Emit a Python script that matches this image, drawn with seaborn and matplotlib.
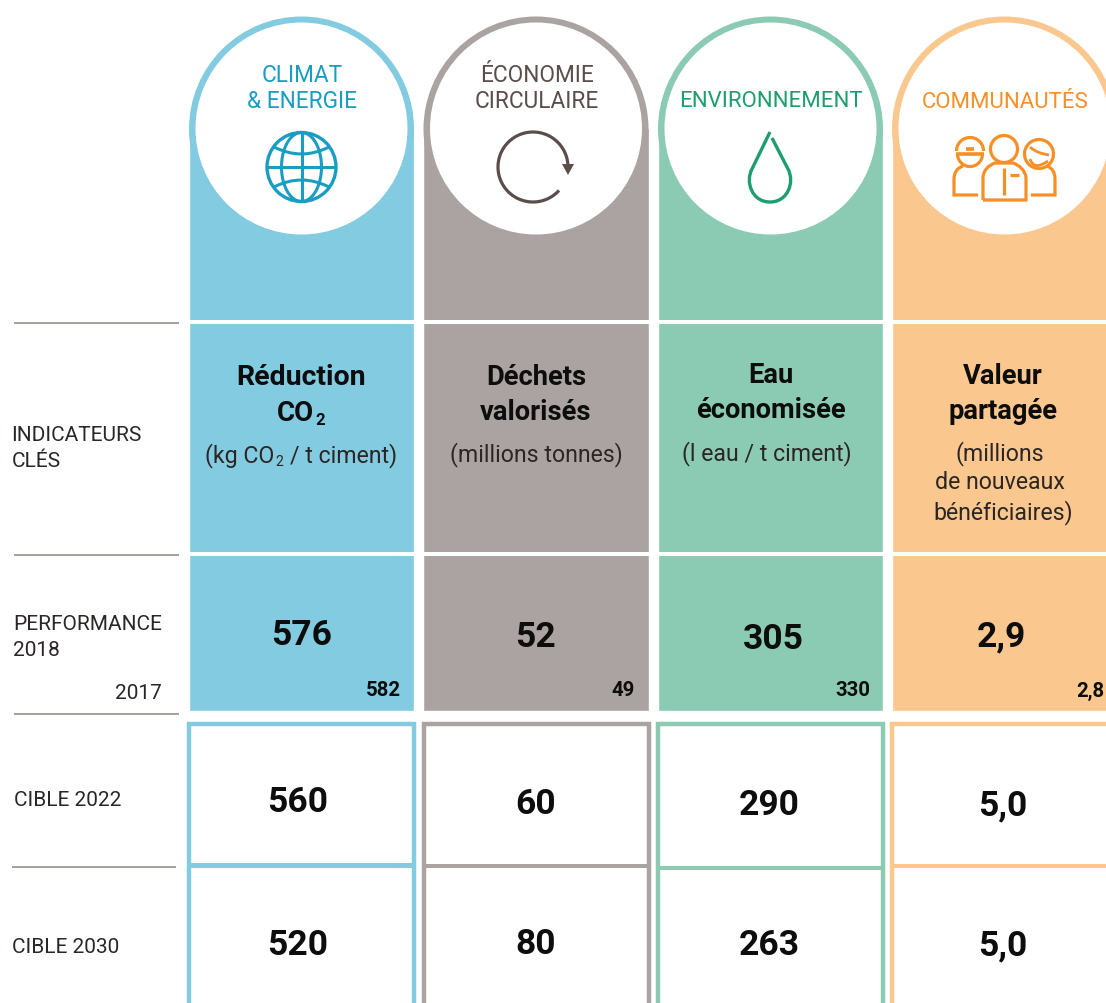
import numpy as np
import seaborn as sns
import matplotlib.pyplot as plt
from matplotlib.patches import Circle, PathPatch, Rectangle, Polygon
from matplotlib.path import Path

categories = ["Climat", "Economie", "Environnement", "Communautes"]
header_lines = [["CLIMAT", "& ENERGIE"], ["ÉCONOMIE", "CIRCULAIRE"], ["ENVIRONNEMENT"], ["COMMUNAUTÉS"]]
perf_2018 = ["576", "52", "305", "2,9"]
perf_2017 = ["582", "49", "330", "2,8"]
cible_2022 = ["560", "60", "290", "5,0"]
cible_2030 = ["520", "80", "263", "5,0"]
fill_colors = ["#82CBE0", "#ABA3A1", "#8BCBB3", "#FAC78F"]
text_colors = ["#1A9DC3", "#5A4D4A", "#1D9E6E", "#F58F26"]

# layout in pixels of the picture
COL_X = [301.5, 536, 770.5, 1004.5]
BOX_X = [187, 422, 656, 890]
BOX_W = 229
MID_Y = [866.5, 867, 869, 867]
DARK = "#0d0d0d"
ICON_Z = 5

sns.set_theme(style="white")
plt.rcParams["font.family"] = ["Roboto", "DejaVu Sans"]

fig = plt.figure(figsize=(11.06, 10.04), dpi=100)
ax = fig.add_axes([0, 0, 1, 1])

# coloured columns
sns.barplot(x=COL_X, y=[583] * 4, bottom=129, hue=categories, palette=fill_colors,
            native_scale=True, width=0.963, saturation=1, legend=False, dodge=False, ax=ax)

ax.set_xlim(0, 1106)
ax.set_ylim(1004, 0)
ax.axis("off")


def label(x, y, s, size=16.3, weight="normal", color="#2b2625", ha="center"):
    ax.text(x, y, s, fontsize=size, fontweight=weight, color=color, ha=ha, va="center_baseline", zorder=6)


def line(xs, ys, color, lw=2.2):
    ax.plot(xs, ys, color=color, lw=lw, solid_capstyle="butt", solid_joinstyle="miter", zorder=ICON_Z)


def curve(points, codes, color, lw=2.2):
    ax.add_patch(PathPatch(Path(points, codes), fc="none", ec=color, lw=lw, zorder=ICON_Z))


def arc(cx, cy, r, a1, a2, color, lw=2.2):
    t = np.radians(np.linspace(a1, a2, 80))
    line(cx + r * np.cos(t), cy + r * np.sin(t), color, lw)


for i, x in enumerate(COL_X):
    c = fill_colors[i]
    tc = text_colors[i]
    ax.add_patch(Circle((x, 130), 112.5, fc=c, ec="none", zorder=1))
    ax.add_patch(Circle((x, 129.5), 106, fc="white", ec="none", zorder=1.1))
    for y0, y1 in [(321, 325), (553, 557)]:
        ax.add_patch(Rectangle((x - 113, y0), 226, y1 - y0, fc="white", ec="none", zorder=1.2))
    # target boxes
    ax.add_patch(Rectangle((BOX_X[i] + 2.2, 725), BOX_W - 4.4, 300, fc="white", ec=c, lw=3.2, zorder=1.3))
    ax.add_patch(Rectangle((BOX_X[i] + 2, MID_Y[i] - 2.2), BOX_W - 4, 4.4, fc=c, ec="none", zorder=1.4))

    if len(header_lines[i]) == 2:
        label(x + 0.5, 72.5, header_lines[i][0], color=tc)
        label(x + 0.5, 99.5, header_lines[i][1], color=tc)
    else:
        label(x + (i == 3), 99 + (i == 3), header_lines[i][0], 16, color=tc)

# left rules
for x0, x1, y in [(14, 179, 323.5), (14, 179, 555.5), (14, 179, 714.5), (12, 176, 867.5)]:
    line([x0, x1], [y, y], "#8E8482", 1.1)

label(11.5, 433.5, "INDICATEURS", ha="left", size=15)
label(11.5, 459.5, "CLÉS", ha="left", size=15)
label(13.5, 622.5, "PERFORMANCE", ha="left", size=15)
label(13.5, 648.5, "2018", ha="left", size=15)
label(162, 691.5, "2017", ha="right", size=15)
label(13.5, 798.5, "CIBLE 2022", ha="left", size=15)
label(11.5, 945.5, "CIBLE 2030", ha="left", size=15)

# indicator titles
label(301, 375, "Réduction", 20.5, "bold", DARK)
label(295, 410.5, "CO", 20, "bold", DARK)
label(320, 419, "2", 12, "bold", DARK)
label(536, 375, "Déchets", 19.7, "bold", DARK)
label(536, 410, "valorisés", 19.7, "bold", DARK)
label(771, 373, "Eau", 19.7, "bold", DARK)
label(771, 408, "économisée", 19.7, "bold", DARK)
label(1003, 374, "Valeur", 19.7, "bold", DARK)
label(1003, 409, "partagée", 19.7, "bold", DARK)

label(205, 452.5, "(kg CO", 16.7, ha="left")
label(279, 461, "2", 10)
label(290, 452.5, "/ t ciment)", 16.7, ha="left")
label(536, 451.5, "(millions tonnes)", 16.7)
label(767, 450.5, "(l eau / t ciment)", 16.7)
label(1000, 450.5, "(millions", 16.7)
label(1000, 480.5, "de nouveaux", 16.7)
label(1003, 509.5, "bénéficiaires)", 16.7)

# values
for x, y, s in zip([301.5, 535.5, 773.5, 1001], [632, 634, 636, 633], perf_2018):
    label(x, y, s, 25.5, "bold", DARK)
for x, y, s in zip([400.5, 634.5, 870.5, 1104.5], [688.5, 688.5, 688.5, 689.5], perf_2017):
    label(x, y, s, 14.7, "bold", DARK, ha="right")
for x, y, s in zip([298, 536, 769.5, 1003], [799, 801, 802, 802], cible_2022):
    label(x, y, s, 25.5, "bold", DARK)
for x, y, s in zip([298, 536, 769.5, 1003], [942, 941, 942, 942], cible_2030):
    label(x, y, s, 25.5, "bold", DARK)

# globe icon
gc = "#1A9DC3"
ax.add_patch(Circle((301.5, 168), 34.5, fc="none", ec=gc, lw=2.4, zorder=ICON_Z))
t = np.linspace(0, 2 * np.pi, 120)
line(301.5 + 20 * np.cos(t), 168 + 34.5 * np.sin(t), gc)
line([301.5, 301.5], [133.5, 202.5], gc)
line([267, 336], [168, 168], gc)
curve([(274, 148), (301.5, 162), (329, 148)], [Path.MOVETO, Path.CURVE3, Path.CURVE3], gc)
curve([(274, 188), (301.5, 174), (329, 188)], [Path.MOVETO, Path.CURVE3, Path.CURVE3], gc)

# circular arrow icon
ac = text_colors[1]
arc(533, 168, 35, 42, 358, ac, 2.3)
ax.add_patch(Polygon([(562, 165), (574, 165), (568, 176)], fc=ac, ec="none", zorder=ICON_Z))

# drop icon
dc = text_colors[2]
curve([(772, 139), (788, 170), (795, 183), (788, 203), (770, 203),
       (752, 203), (745, 183), (752, 170), (770, 133)],
      [Path.MOVETO, Path.LINETO, Path.CURVE4, Path.CURVE4, Path.CURVE4,
       Path.CURVE4, Path.CURVE4, Path.CURVE4, Path.LINETO], dc, 2.4)

# people icon
pc = text_colors[3]
ax.add_patch(Circle((1004, 150), 13.5, fc="none", ec=pc, lw=2.3, zorder=ICON_Z))
curve([(983, 201), (983, 178), (984, 168), (995, 164), (1013, 164), (1024, 168), (1026, 178), (1026, 201), (983, 201)],
      [Path.MOVETO, Path.LINETO, Path.CURVE3, Path.CURVE3, Path.LINETO, Path.CURVE3, Path.CURVE3, Path.LINETO, Path.LINETO],
      pc, 2.3)
line([1004, 1004], [169, 196], pc, 2.3)
line([1010, 1019], [175.5, 175.5], pc, 2.3)
# worker
arc(970, 155, 12.5, 0, 180, pc, 2.3)
arc(970, 152, 13.5, 180, 360, pc, 2.3)
line([956, 984], [155, 155], pc, 2.6)
line([966, 974], [149.5, 149.5], pc, 2.6)
curve([(978, 196), (954, 196), (954, 180), (954, 170), (963, 167)],
      [Path.MOVETO, Path.LINETO, Path.LINETO, Path.CURVE3, Path.CURVE3], pc, 2.3)
# woman
ax.add_patch(Circle((1039, 155), 14.5, fc="none", ec=pc, lw=2.3, zorder=ICON_Z))
curve([(1030, 148), (1036, 154), (1049, 156)], [Path.MOVETO, Path.CURVE3, Path.CURVE3], pc, 2)
curve([(1030, 160), (1034, 172), (1048, 162)], [Path.MOVETO, Path.CURVE3, Path.CURVE3], pc, 2)
curve([(1031, 196), (1055, 196), (1055, 180), (1055, 170), (1047, 167)],
      [Path.MOVETO, Path.LINETO, Path.LINETO, Path.CURVE3, Path.CURVE3], pc, 2.3)

fig.savefig("out.png", dpi=100)
